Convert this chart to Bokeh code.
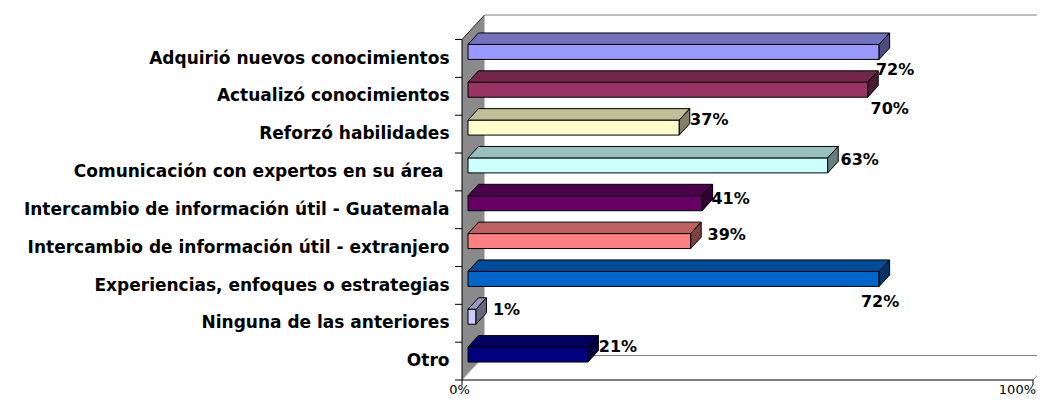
from bokeh.plotting import figure
from bokeh.models import Range1d
from bokeh.core.properties import value
from bokeh.embed import file_html
from bokeh.resources import INLINE

# ---------------- data ----------------
categories = [
    "Adquirió nuevos conocimientos",
    "Actualizó conocimientos",
    "Reforzó habilidades",
    "Comunicación con expertos en su área ",
    "Intercambio de información útil - Guatemala",
    "Intercambio de información útil - extranjero",
    "Experiencias, enfoques o estrategias",
    "Ninguna de las anteriores",
    "Otro",
]
percentages = [72, 70, 37, 63, 41, 39, 72, 1.4, 21]
bar_colors = ["#9999FF", "#993366", "#FFFFCC", "#CCFFFF", "#660066",
              "#FF8080", "#0066CC", "#CCCCFF", "#000080"]
x_ticks = [0, 100]
x_tick_labels = ["0%", "100%"]

# ---------------- layout ----------------
W, H = 1037, 397
KX = 5.71      # px per percent
KY = 37.83     # px per category slot
X0 = 461.5     # px of 0 %
Y0 = 379.5     # px (from top) of the floor front edge
DX = 22.5 / KX  # depth vector of the 3D box
DY = 24.5 / KY
F_DEPTH = 6.0 / 22.5      # bar front plane
B_DEPTH = 16.5 / 22.5     # bar back plane
HALF_H = 7.5 / KY
# value label centre offsets (px) from the bar's front end / centre
LABEL_DXY = [(16, 18), (22, 19), (30, -8), (32, -5.5), (28.5, -5),
             (36, -6.5), (1, 23), (30.5, -7), (30, -8)]

p = figure(width=W, height=H, output_backend="svg", toolbar_location=None,
           x_range=Range1d(-X0 / KX, (W - X0) / KX),
           y_range=Range1d(-(H - Y0) / KY, Y0 / KY),
           x_axis_type=None, y_axis_type=None, min_border=0)
p.outline_line_color = None
p.xgrid.visible = False
p.ygrid.visible = False
p.background_fill_color = "white"
p.border_fill_color = "white"

n = len(categories)
grey = "#808080"
xmax = x_ticks[-1]

# back wall / floor edges
p.line([DX, xmax + DX], [n + DY, n + DY], line_color=grey, line_width=1)
p.line([DX, xmax + DX], [DY, DY], line_color=grey, line_width=1)
p.line([xmax, xmax + DX], [0, DY], line_color=grey, line_width=1)

# side wall
p.patch([0, 0, DX, DX], [0, n, n + DY, DY], fill_color="#8a8a8a", line_color=None)
p.line([0, DX], [n, n + DY], line_color="#202020", line_width=1)
p.line([0, DX], [0, DY], line_color="#b4b4b4", line_width=1)

# axes lines and ticks
p.line([0, 0], [0, n], line_color="black", line_width=1)
p.segment(x0=[-7 / KX] * (n + 1), y0=list(range(n + 1)),
          x1=[0] * (n + 1), y1=list(range(n + 1)), line_color="black", line_width=1)
p.line([0, xmax], [0, 0], line_color="black", line_width=1)
p.segment(x0=x_ticks, y0=[0] * len(x_ticks), x1=x_ticks, y1=[-5 / KY] * len(x_ticks),
          line_color="black", line_width=1)


def shade(hexcol, f):
    r, g, b = (int(hexcol[i:i + 2], 16) for i in (1, 3, 5))
    return "#%02x%02x%02x" % (int(r * f), int(g * f), int(b * f))


fx, fy = F_DEPTH * DX, F_DEPTH * DY
ddx, ddy = (B_DEPTH - F_DEPTH) * DX, (B_DEPTH - F_DEPTH) * DY
xs, ys, cols = [], [], []
for k, (v, c) in enumerate(zip(percentages, bar_colors)):
    r = n - 1 - k
    x0, x1 = fx, v + fx
    y0, y1 = r + 0.5 - HALF_H + fy, r + 0.5 + HALF_H + fy
    # front
    xs.append([x0, x1, x1, x0]); ys.append([y0, y0, y1, y1]); cols.append(c)
    # top
    xs.append([x0, x1, x1 + ddx, x0 + ddx]); ys.append([y1, y1, y1 + ddy, y1 + ddy]); cols.append(shade(c, 0.75))
    # side
    xs.append([x1, x1 + ddx, x1 + ddx, x1]); ys.append([y0, y0 + ddy, y1 + ddy, y1]); cols.append(shade(c, 0.5))
p.patches(xs, ys, fill_color=cols, line_color="black", line_width=1)

# category labels
p.text(x=[-12.5 / KX] * n, y=[n - 1 - k + 0.5 + 0.9 / KY for k in range(n)], text=categories,
       text_font=value("DejaVu Sans"), text_font_style="bold", text_font_size="17px",
       text_align="right", text_baseline="middle", text_color="black")

# value labels
vx, vy, vt = [], [], []
for k, v in enumerate(percentages):
    r = n - 1 - k
    dx, dy = LABEL_DXY[k]
    vx.append(v + fx + dx / KX)
    vy.append(r + 0.5 + fy - dy / KY)
    vt.append(f"{round(v)}%")
p.text(x=vx, y=vy, text=vt, text_font=value("DejaVu Sans"), text_font_style="bold",
       text_font_size="16px", text_align="center", text_baseline="middle", text_color="black")

# x tick labels
p.text(x=[x_ticks[0] - 2.5 / KX], y=[-9.5 / KY], text=[x_tick_labels[0]],
       text_font=value("DejaVu Sans"), text_font_size="13px", text_align="center",
       text_baseline="middle", text_color="black")
p.text(x=[(W - 1.5 - X0) / KX], y=[-9.5 / KY], text=[x_tick_labels[1]],
       text_font=value("DejaVu Sans"), text_font_size="13px", text_align="right",
       text_baseline="middle", text_color="black")

open("out.html", "w").write(file_html(p, INLINE))
